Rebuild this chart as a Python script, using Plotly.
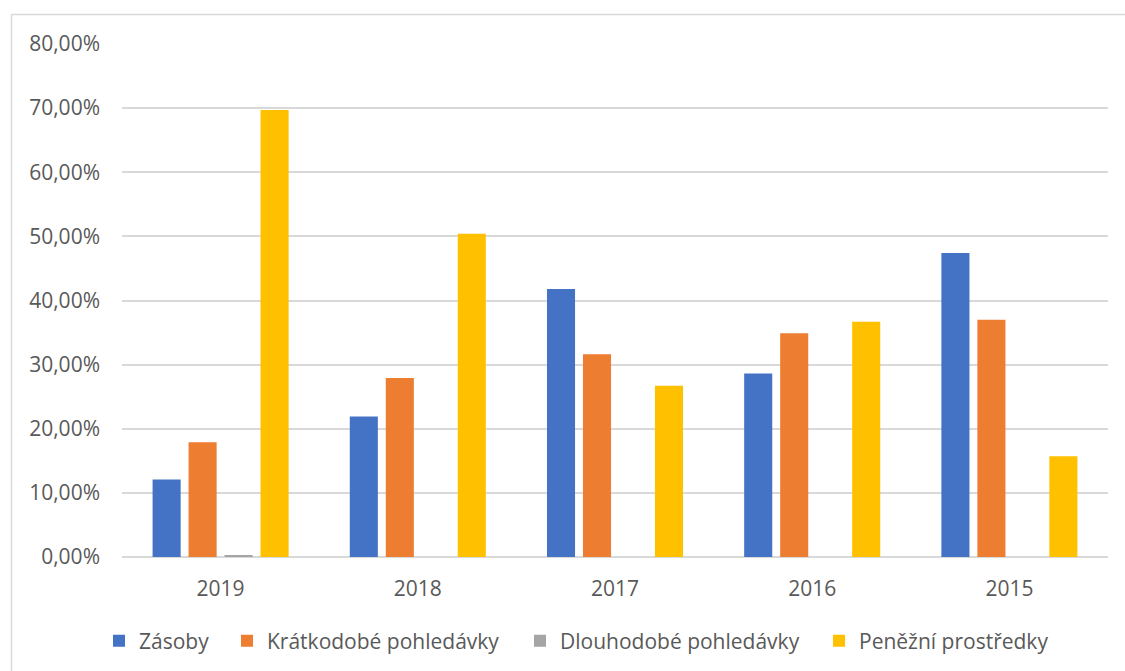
import plotly.graph_objects as go

years = ["2019", "2018", "2017", "2016", "2015"]
series_names = ["Zásoby", "Krátkodobé pohledávky", "Dlouhodobé pohledávky", "Peněžní prostředky"]
zasoby = [12.1, 21.9, 41.8, 28.6, 47.4]
kratkodobe = [17.9, 27.9, 31.6, 34.9, 37.0]
dlouhodobe = [0.27, 0.0, 0.0, 0.0, 0.0]
penezni = [69.7, 50.4, 26.7, 36.7, 15.7]
y_ticks = [0, 10, 20, 30, 40, 50, 60, 70, 80]
y_tick_labels = ["0,00%", "10,00%", "20,00%", "30,00%", "40,00%", "50,00%", "60,00%", "70,00%", "80,00%"]

colors = ["#4472C4", "#ED7D31", "#A5A5A5", "#FFC000"]
values = [zasoby, kratkodobe, dlouhodobe, penezni]
legend_ids = ["legend", "legend2", "legend3", "legend4"]
legend_left_px = [109, 237, 530, 829]

W, H = 1125, 671
L, R, T, B = 122, 1108, 44, 557
FS = 21
TXT = "#595959"


def px(x):
    return (x - L) / (R - L)


def py(y):
    return (B - y) / (B - T)


fig = go.Figure()
for name, vals, col, lid in zip(series_names, values, colors, legend_ids):
    fig.add_trace(go.Bar(x=years, y=vals, name=name, legend=lid,
                         marker=dict(color=col, line=dict(width=0))))

legend_layout = {}
for lid, lx in zip(legend_ids, legend_left_px):
    legend_layout[lid] = dict(orientation="h", x=px(lx - 10), xanchor="left", y=py(641), yanchor="middle",
                              font=dict(family="Open Sans", size=FS, color=TXT), itemwidth=30,
                              bgcolor="rgba(0,0,0,0)")

fig.update_layout(
    width=W, height=H,
    margin=dict(l=L, r=W - R, t=T, b=H - B, autoexpand=False),
    paper_bgcolor="white", plot_bgcolor="white",
    barmode="group", bargap=0.27, bargroupgap=0.22,
    font=dict(family="Open Sans", size=FS, color=TXT),
    showlegend=True,
    xaxis=dict(showgrid=False, showline=False, ticks="", ticklabelstandoff=17,
               tickfont=dict(size=FS, color=TXT)),
    yaxis=dict(range=[0, 80], tickvals=y_ticks, ticktext=y_tick_labels,
               showgrid=True, gridcolor="#D9D9D9", gridwidth=1.5,
               zeroline=True, zerolinecolor="#D9D9D9", zerolinewidth=1.5,
               showline=False, ticks="", ticklabelstandoff=21,
               tickfont=dict(size=FS, color=TXT)),
    shapes=[
        dict(type="line", xref="paper", yref="paper", x0=px(11), x1=px(1130), y0=py(14.5), y1=py(14.5),
             line=dict(color="#D9D9D9", width=1.5)),
        dict(type="line", xref="paper", yref="paper", x0=px(11.5), x1=px(11.5), y0=py(14), y1=py(680),
             line=dict(color="#D9D9D9", width=1.5)),
    ],
    **legend_layout,
)

fig.write_html("out.html")
